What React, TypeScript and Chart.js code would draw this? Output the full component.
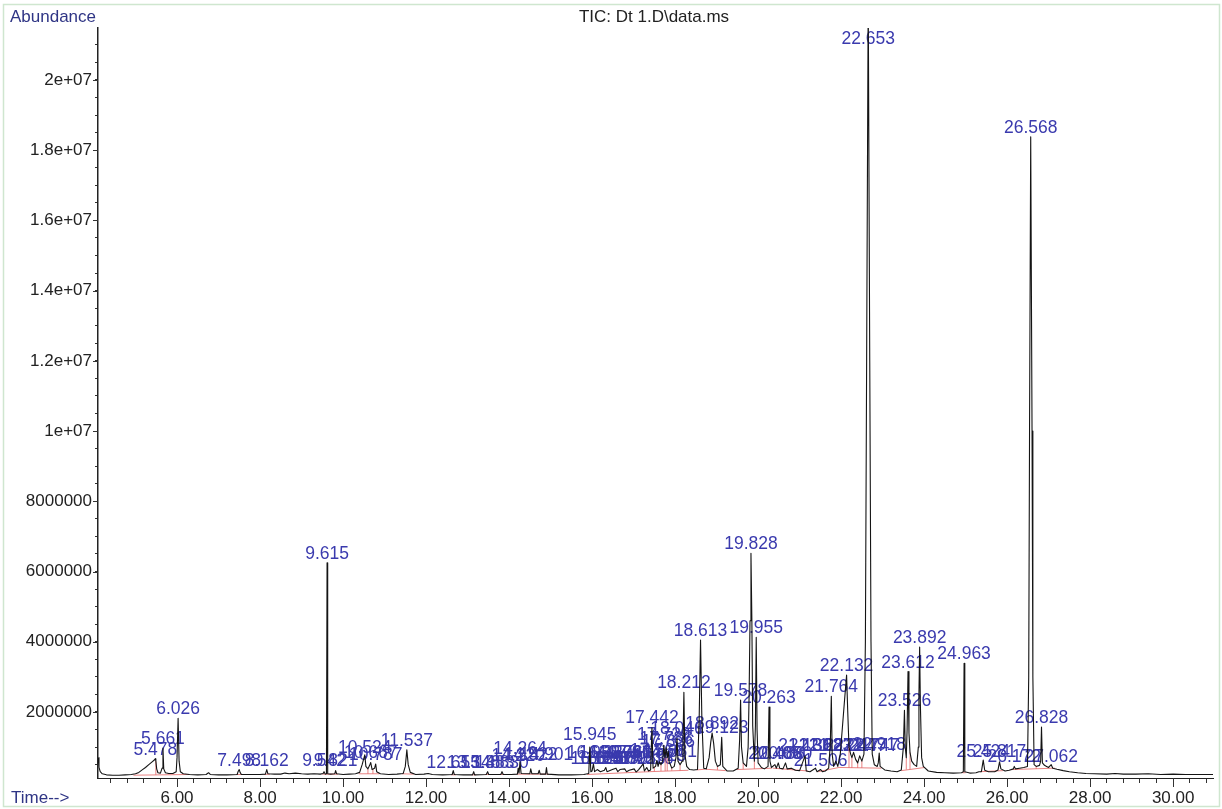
import React, { useEffect, useRef } from 'react';
import { Chart, registerables } from 'chart.js';

Chart.register(...registerables);

// ---------------- DATA ----------------
// Total ion chromatogram trace: [retention time (min), abundance (millions)]
const tracePoints: [number, number][] = [
  [4.10, 0.70], [4.12, 0.42], [4.15, 0.30], [4.20, 0.24], [4.30, 0.21], [4.45, 0.20], [4.60, 0.20],
  [4.75, 0.21], [4.90, 0.22], [5.00, 0.24], [5.08, 0.28], [5.16, 0.35], [5.24, 0.42], [5.32, 0.50],
  [5.40, 0.58], [5.46, 0.64], [5.478, 0.67], [5.49, 0.60], [5.51, 0.38], [5.54, 0.27], [5.60, 0.26],
  [5.64, 0.40], [5.661, 0.97], [5.68, 0.38], [5.72, 0.27], [5.80, 0.25], [5.90, 0.25], [5.98, 0.30],
  [6.00, 0.70], [6.026, 1.82], [6.05, 0.60], [6.08, 0.30], [6.15, 0.24], [6.30, 0.22], [6.50, 0.21],
  [6.70, 0.22], [6.76, 0.27], [6.80, 0.22], [7.00, 0.21], [7.20, 0.21], [7.45, 0.22], [7.47, 0.30],
  [7.498, 0.36], [7.52, 0.28], [7.55, 0.22], [7.80, 0.22], [8.00, 0.22], [8.13, 0.23], [8.162, 0.36],
  [8.19, 0.24], [8.35, 0.23], [8.50, 0.23], [8.60, 0.26], [8.70, 0.24], [8.85, 0.26], [9.00, 0.24],
  [9.15, 0.23], [9.30, 0.24], [9.45, 0.23], [9.52, 0.25], [9.542, 0.30], [9.57, 0.23], [9.60, 0.24],
  [9.615, 6.25], [9.63, 0.24], [9.70, 0.23], [9.80, 0.24], [9.821, 0.33], [9.845, 0.24], [10.00, 0.22],
  [10.15, 0.23], [10.30, 0.24], [10.40, 0.28], [10.46, 0.50], [10.524, 0.78], [10.55, 0.45], [10.60, 0.38],
  [10.64, 0.48], [10.667, 0.56], [10.70, 0.36], [10.76, 0.40], [10.787, 0.52], [10.81, 0.30], [10.90, 0.24],
  [11.10, 0.22], [11.30, 0.23], [11.45, 0.25], [11.50, 0.45], [11.537, 0.92], [11.57, 0.50], [11.62, 0.28],
  [11.75, 0.22], [11.95, 0.23], [12.05, 0.25], [12.15, 0.22], [12.40, 0.21], [12.63, 0.22], [12.655, 0.33],
  [12.68, 0.22], [12.90, 0.21], [13.12, 0.21], [13.148, 0.30], [13.17, 0.21], [13.45, 0.22], [13.483, 0.30],
  [13.51, 0.22], [13.80, 0.22], [13.83, 0.30], [13.86, 0.22], [14.05, 0.22], [14.20, 0.23], [14.22, 0.40],
  [14.24, 0.26], [14.264, 0.58], [14.29, 0.25], [14.50, 0.24], [14.522, 0.38], [14.55, 0.24], [14.70, 0.24],
  [14.727, 0.34], [14.75, 0.23], [14.88, 0.23], [14.901, 0.42], [14.92, 0.23], [15.20, 0.21], [15.50, 0.21],
  [15.80, 0.22], [15.92, 0.25], [15.945, 1.00], [15.97, 0.30], [16.00, 0.32], [16.033, 0.52], [16.06, 0.30],
  [16.125, 0.36], [16.20, 0.30], [16.297, 0.34], [16.33, 0.42], [16.36, 0.30], [16.489, 0.36], [16.576, 0.40],
  [16.62, 0.30], [16.672, 0.36], [16.786, 0.38], [16.83, 0.30], [16.895, 0.34], [17.014, 0.38], [17.06, 0.29],
  [17.123, 0.36], [17.231, 0.52], [17.26, 0.32], [17.316, 0.42], [17.36, 0.32], [17.41, 0.35], [17.442, 1.55],
  [17.47, 0.40], [17.53, 0.45], [17.56, 0.62], [17.59, 0.45], [17.623, 0.58], [17.66, 0.50], [17.70, 0.60],
  [17.729, 1.05], [17.755, 0.70], [17.786, 0.98], [17.81, 0.70], [17.836, 0.88], [17.86, 0.55], [17.881, 0.52],
  [17.92, 0.40], [17.98, 0.45], [18.02, 0.70], [18.046, 1.25], [18.07, 0.60], [18.12, 0.50], [18.17, 0.60],
  [18.19, 1.10], [18.212, 2.56], [18.235, 0.80], [18.28, 0.45], [18.35, 0.36], [18.45, 0.35], [18.54, 0.36],
  [18.58, 1.80], [18.613, 4.05], [18.645, 1.80], [18.69, 0.40], [18.75, 0.38], [18.82, 0.70], [18.86, 1.15],
  [18.892, 1.40], [18.93, 1.10], [18.97, 0.60], [19.02, 0.45], [19.09, 0.50], [19.123, 1.28], [19.15, 0.45],
  [19.25, 0.32], [19.40, 0.32], [19.52, 0.40], [19.555, 1.20], [19.578, 2.34], [19.60, 1.00], [19.64, 0.55],
  [19.72, 0.45], [19.76, 1.00], [19.785, 2.60], [19.805, 4.60], [19.828, 6.52], [19.85, 4.60], [19.87, 1.60],
  [19.91, 0.60], [19.935, 1.60], [19.955, 4.13], [19.975, 1.50], [20.00, 0.55], [20.08, 0.42], [20.15, 0.38],
  [20.24, 0.45], [20.263, 2.14], [20.285, 0.60], [20.32, 0.42], [20.405, 0.50], [20.44, 0.40], [20.486, 0.55],
  [20.52, 0.40], [20.60, 0.38], [20.66, 0.55], [20.70, 0.38], [20.80, 0.40], [20.90, 0.34], [21.00, 0.33],
  [21.131, 0.75], [21.16, 0.32], [21.25, 0.30], [21.382, 0.40], [21.42, 0.30], [21.506, 0.36], [21.55, 0.30],
  [21.62, 0.32], [21.70, 0.40], [21.74, 1.10], [21.764, 2.45], [21.785, 0.80], [21.82, 0.45], [21.871, 0.60],
  [21.92, 0.45], [21.98, 0.80], [22.027, 1.50], [22.08, 2.30], [22.132, 3.05], [22.16, 2.00], [22.19, 1.00],
  [22.23, 0.80], [22.26, 0.70], [22.30, 0.85], [22.35, 0.65], [22.40, 0.55], [22.447, 0.75], [22.50, 0.60],
  [22.55, 0.80], [22.585, 4.00], [22.615, 12.0], [22.653, 22.5], [22.69, 12.0], [22.72, 4.00], [22.75, 0.80],
  [22.80, 0.50], [22.87, 0.45], [22.895, 0.55], [22.918, 0.83], [22.94, 0.45], [23.05, 0.35], [23.20, 0.32],
  [23.35, 0.30], [23.45, 0.35], [23.50, 1.00], [23.526, 2.05], [23.545, 1.00], [23.57, 0.70], [23.59, 1.50],
  [23.612, 3.15], [23.635, 1.40], [23.66, 0.85], [23.70, 0.60], [23.76, 0.50], [23.82, 0.45], [23.86, 1.00],
  [23.875, 2.50], [23.892, 3.85], [23.91, 2.20], [23.94, 0.70], [23.98, 0.45], [24.10, 0.32], [24.30, 0.28],
  [24.50, 0.27], [24.70, 0.26], [24.90, 0.27], [24.945, 0.30], [24.963, 3.39], [24.98, 0.30], [25.10, 0.26],
  [25.25, 0.27], [25.32, 0.30], [25.38, 0.30], [25.424, 0.63], [25.46, 0.34], [25.55, 0.30], [25.70, 0.30],
  [25.78, 0.35], [25.817, 0.58], [25.85, 0.38], [25.95, 0.32], [26.05, 0.34], [26.15, 0.38], [26.172, 0.45],
  [26.20, 0.38], [26.30, 0.40], [26.40, 0.42], [26.49, 0.45], [26.52, 3.00], [26.54, 10.0], [26.568, 18.38],
  [26.60, 10.0], [26.62, 3.00], [26.65, 0.50], [26.70, 0.45], [26.78, 0.48], [26.808, 0.60], [26.828, 1.57],
  [26.85, 0.55], [26.90, 0.48], [26.95, 0.45], [27.00, 0.42], [27.062, 0.50], [27.10, 0.40], [27.20, 0.37],
  [27.35, 0.33], [27.50, 0.30], [27.70, 0.27], [27.90, 0.25], [28.10, 0.24], [28.40, 0.23], [28.60, 0.25],
  [28.80, 0.23], [29.10, 0.23], [29.40, 0.24], [29.70, 0.22], [30.00, 0.23], [30.30, 0.22], [30.60, 0.22],
  [31.00, 0.22],
];

// Integration marks (red): [t1, v1, t2, v2] in minutes / millions
const integrationSegments: [number, number, number, number][] = [
  [4.95, 0.20, 6.30, 0.22], [5.49, 0.21, 5.49, 0.60],
  [7.42, 0.22, 7.58, 0.22], [8.10, 0.22, 8.24, 0.23], [9.50, 0.23, 9.88, 0.23],
  [10.38, 0.24, 10.88, 0.24], [10.60, 0.24, 10.60, 0.38], [10.72, 0.24, 10.72, 0.38],
  [11.42, 0.24, 11.70, 0.23], [12.60, 0.21, 12.72, 0.21], [13.10, 0.21, 13.20, 0.21],
  [13.42, 0.22, 13.55, 0.22], [13.78, 0.22, 13.90, 0.22], [14.18, 0.23, 14.96, 0.23],
  [15.88, 0.22, 17.38, 0.30], [17.38, 0.30, 18.32, 0.34],
  [17.50, 0.31, 17.50, 0.45], [17.66, 0.32, 17.66, 0.50], [17.76, 0.32, 17.76, 0.70],
  [17.81, 0.32, 17.81, 0.70], [17.92, 0.33, 17.92, 0.40], [18.12, 0.33, 18.12, 0.50],
  [18.52, 0.35, 18.72, 0.37], [18.74, 0.37, 19.22, 0.33], [19.02, 0.35, 19.02, 0.45],
  [19.48, 0.36, 20.34, 0.40], [19.64, 0.37, 19.64, 0.55], [19.91, 0.38, 19.91, 0.60],
  [20.36, 0.40, 21.20, 0.32], [21.45, 0.30, 21.95, 0.42], [21.95, 0.42, 22.97, 0.40],
  [22.19, 0.41, 22.19, 1.00], [22.26, 0.41, 22.26, 0.70], [22.40, 0.41, 22.40, 0.55],
  [22.50, 0.41, 22.50, 0.60], [23.45, 0.33, 24.02, 0.42], [23.57, 0.36, 23.57, 0.70],
  [23.66, 0.37, 23.66, 0.85], [24.92, 0.27, 25.00, 0.27], [25.35, 0.30, 25.90, 0.33],
  [26.10, 0.36, 27.15, 0.40], [26.70, 0.38, 26.70, 0.45],
];

// Peak labels: retention-time text, position (min) and label anchor level (millions)
const peakLabelTexts = [
  '5.478', '5.661', '6.026', '7.498', '8.162', '9.542', '9.615', '9.821', '10.524', '10.667', '10.787',
  '11.537', '12.655', '13.148', '13.483', '13.830', '14.220', '14.264', '14.522', '14.901', '15.945',
  '16.033', '16.330', '16.576', '16.786', '17.014', '16.125', '16.297', '16.489', '16.672', '16.895',
  '17.123', '17.316', '17.442', '17.560', '17.623', '17.729', '17.786', '17.836', '17.881', '18.046',
  '18.212', '18.613', '18.892', '19.123', '19.578', '19.828', '19.955', '20.263', '20.405', '20.486',
  '20.660', '21.131', '21.382', '21.623', '21.871', '22.247', '22.447', '22.747', '21.506', '21.764',
  '22.132', '22.653', '22.918', '23.526', '23.612', '23.892', '24.963', '25.424', '25.817', '26.172',
  '26.568', '26.828', '27.062',
];
const peakLabelTimes = [
  5.478, 5.661, 6.026, 7.498, 8.162, 9.542, 9.615, 9.821, 10.524, 10.667, 10.787,
  11.537, 12.655, 13.148, 13.483, 13.830, 14.220, 14.264, 14.522, 14.901, 15.945,
  16.033, 16.330, 16.576, 16.786, 17.014, 16.125, 16.297, 16.489, 16.672, 16.895,
  17.123, 17.316, 17.442, 17.560, 17.623, 17.729, 17.786, 17.836, 17.881, 18.046,
  18.212, 18.613, 18.892, 19.123, 19.578, 19.828, 19.955, 20.263, 20.405, 20.486,
  20.660, 21.131, 21.382, 21.623, 21.871, 22.247, 22.447, 22.747, 21.506, 21.764,
  22.132, 22.653, 22.918, 23.526, 23.612, 23.892, 24.963, 25.424, 25.817, 26.172,
  26.568, 26.828, 27.062,
];
const peakLabelLevels = [
  0.67, 0.97, 1.82, 0.36, 0.36, 0.34, 6.25, 0.34, 0.72, 0.57, 0.52,
  0.92, 0.30, 0.30, 0.30, 0.30, 0.50, 0.70, 0.52, 0.52, 1.10,
  0.57, 0.57, 0.57, 0.57, 0.57, 0.40, 0.40, 0.40, 0.40, 0.40,
  0.40, 0.40, 1.57, 0.62, 0.50, 1.10, 0.98, 0.88, 0.60, 1.25,
  2.56, 4.05, 1.40, 1.28, 2.34, 6.52, 4.13, 2.14, 0.54, 0.54,
  0.54, 0.77, 0.77, 0.77, 0.77, 0.77, 0.77, 0.77, 0.34, 2.45,
  3.05, 22.5, 0.80, 2.05, 3.15, 3.85, 3.39, 0.60, 0.60, 0.45,
  18.38, 1.57, 0.45,
];

// Axis ticks
const xMajorTicks = [6, 8, 10, 12, 14, 16, 18, 20, 22, 24, 26, 28, 30];
const xTickLabels = ['6.00', '8.00', '10.00', '12.00', '14.00', '16.00', '18.00', '20.00', '22.00', '24.00', '26.00', '28.00', '30.00'];
const yMajorTicks = [2e6, 4e6, 6e6, 8e6, 1e7, 1.2e7, 1.4e7, 1.6e7, 1.8e7, 2e7];
const yTickLabels = ['2000000', '4000000', '6000000', '8000000', '1e+07', '1.2e+07', '1.4e+07', '1.6e+07', '1.8e+07', '2e+07'];

const TITLE = 'TIC: Dt 1.D\\data.ms';
const Y_TITLE = 'Abundance';
const X_TITLE = 'Time-->';

// ---------------- STYLE ----------------
const X_MIN = 4.096;
const X_MAX = 30.96;
const Y_MIN = 120000;
const Y_MAX = 21480000;
const FONT = '"Liberation Sans", Arial, Helvetica, sans-serif';
const LABEL_BLUE = '#3a3aae';
const NAVY = '#2f3585';

const xMinorTicks: number[] = [];
for (let i = 11; i <= 77; i++) xMinorTicks.push((i * 4) / 10);
const yMinorTicks: number[] = [];
for (let i = 1; i <= 42; i++) yMinorTicks.push(i * 500000);

const findIdx = (arr: number[], v: number, tol: number) => arr.findIndex((a) => Math.abs(a - v) < tol);

const decorPlugin = {
  id: 'decor',
  beforeDatasetsDraw(chart: any) {
    const { ctx, chartArea, scales } = chart;
    const x = scales.x;
    const y = scales.y;
    ctx.save();
    ctx.font = `17.5px ${FONT}`;
    ctx.fillStyle = LABEL_BLUE;
    ctx.textAlign = 'center';
    ctx.textBaseline = 'alphabetic';
    peakLabelTexts.forEach((txt, i) => {
      const px = x.getPixelForValue(peakLabelTimes[i]);
      let py = y.getPixelForValue(peakLabelLevels[i] * 1e6) - 4;
      if (py < chartArea.top + 16) py = chartArea.top + 16;
      ctx.fillText(txt, px, py);
    });
    ctx.restore();
  },
  afterDraw(chart: any) {
    const { ctx, chartArea, scales } = chart;
    const x = scales.x;
    const y = scales.y;
    ctx.save();
    // frame
    ctx.strokeStyle = '#cfe6cf';
    ctx.lineWidth = 1.5;
    ctx.strokeRect(3.5, 4.5, 1216, 802);
    // extended major ticks
    ctx.strokeStyle = '#333';
    ctx.lineWidth = 1;
    ctx.beginPath();
    xMajorTicks.forEach((v) => {
      const px = Math.round(x.getPixelForValue(v)) + 0.5;
      ctx.moveTo(px, chartArea.bottom);
      ctx.lineTo(px, chartArea.bottom + 9);
    });
    yMajorTicks.forEach((v) => {
      const py = Math.round(y.getPixelForValue(v)) + 0.5;
      ctx.moveTo(chartArea.left, py);
      ctx.lineTo(chartArea.left - 5, py);
    });
    ctx.stroke();
    // texts
    ctx.font = `17px ${FONT}`;
    ctx.textBaseline = 'middle';
    ctx.fillStyle = '#222';
    ctx.textAlign = 'center';
    ctx.fillText(TITLE, 654, 17);
    ctx.fillStyle = NAVY;
    ctx.textAlign = 'left';
    ctx.fillText(Y_TITLE, 10, 17);
    ctx.fillText(X_TITLE, 11, 798);
    ctx.restore();
  },
};

export default function App() {
  const ref = useRef<HTMLCanvasElement | null>(null);

  useEffect(() => {
    if (!ref.current) return;
    Chart.defaults.font.family = FONT;
    const traceData = tracePoints.map(([t, v]) => ({ x: t, y: v * 1e6 }));
    const redData: { x: number; y: number | null }[] = [];
    integrationSegments.forEach(([t1, v1, t2, v2]) => {
      redData.push({ x: t1, y: v1 * 1e6 });
      redData.push({ x: t2, y: v2 * 1e6 });
      redData.push({ x: t2, y: null });
    });

    const chart = new Chart(ref.current, {
      type: 'line',
      data: {
        datasets: [
          {
            data: traceData,
            borderColor: '#141414',
            borderWidth: 1.1,
            pointRadius: 0,
            tension: 0,
            fill: false,
            borderJoinStyle: 'round',
          },
          {
            data: redData as any,
            borderColor: 'rgba(225,90,90,0.75)',
            borderWidth: 1,
            pointRadius: 0,
            tension: 0,
            fill: false,
            spanGaps: false,
          },
        ],
      },
      options: {
        animation: false,
        responsive: false,
        devicePixelRatio: 1,
        layout: { padding: { left: 0, right: 9, top: 28, bottom: 0 } },
        plugins: { legend: { display: false }, tooltip: { enabled: false }, title: { display: false } },
        scales: {
          x: {
            type: 'linear',
            min: X_MIN,
            max: X_MAX,
            afterBuildTicks: (scale: any) => {
              scale.ticks = xMinorTicks.map((v) => ({ value: v }));
            },
            afterFit: (scale: any) => {
              scale.height = 31;
            },
            ticks: {
              autoSkip: false,
              maxRotation: 0,
              minRotation: 0,
              padding: 5,
              color: '#222',
              font: { size: 17, family: FONT },
              callback: (v: any) => {
                const i = findIdx(xMajorTicks, Number(v), 1e-6);
                return i >= 0 ? xTickLabels[i] : '';
              },
            },
            grid: { drawOnChartArea: false, drawTicks: true, tickLength: 5, color: '#333' },
            border: { display: true, color: '#222', width: 1 },
          },
          y: {
            type: 'linear',
            min: Y_MIN,
            max: Y_MAX,
            afterBuildTicks: (scale: any) => {
              scale.ticks = yMinorTicks.map((v) => ({ value: v }));
            },
            afterFit: (scale: any) => {
              scale.width = 98;
            },
            ticks: {
              autoSkip: false,
              padding: 3,
              color: '#222',
              font: { size: 17, family: FONT },
              callback: (v: any) => {
                const i = findIdx(yMajorTicks, Number(v), 1);
                return i >= 0 ? yTickLabels[i] : '';
              },
            },
            grid: { drawOnChartArea: false, drawTicks: true, tickLength: 3, color: '#333' },
            border: { display: true, color: '#222', width: 1.5 },
          },
        },
      },
      plugins: [decorPlugin],
    } as any);

    return () => chart.destroy();
  }, []);

  return (
    <div style={{ position: 'fixed', left: 0, top: 0, width: 1222, height: 809, background: '#fff' }}>
      <canvas ref={ref} width={1222} height={809} style={{ width: 1222, height: 809, display: 'block' }} />
    </div>
  );
}
